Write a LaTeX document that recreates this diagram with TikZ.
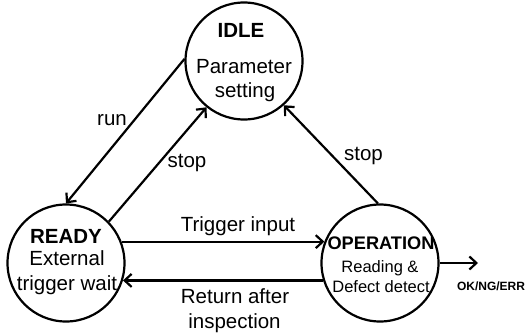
\documentclass[tikz,border=0pt]{standalone}
\usepackage{fontspec}
\setmainfont{Liberation Sans}
\usetikzlibrary{arrows.meta}
\begin{document}
\begin{tikzpicture}[x=1pt,y=-1pt,
  state/.style={draw, circle, line width=2.2pt, inner sep=0pt, minimum size=117pt},
  conn/.style={line width=2.2pt, -{Straight Barb[length=7pt,width=13pt]}},
  txt/.style={inner sep=0pt, anchor=base, font=\fontsize{20.5}{24}\selectfont},
  ttl/.style={inner sep=0pt, anchor=base, font=\fontsize{20.5}{24}\selectfont\bfseries},
  small/.style={inner sep=0pt, anchor=base, font=\fontsize{16.5}{20}\selectfont},
  tiny/.style={inner sep=0pt, anchor=base, font=\fontsize{12}{14}\selectfont\bfseries}
]
\useasboundingbox (0,0) rectangle (526,335);
% states
\node[state] (idle) at (244,61) {};
\node[state] (ready) at (66,263) {};
\node[state] (op) at (380,263) {};
% state texts
\node[ttl] (idleT) at (241,37) {IDLE};
\node[txt] (idleA) at (244,73) {Parameter};
\node[txt] (idleB) at (245,97) {setting};
\node[ttl] (readyT) at (66,243) {READY};
\node[txt] (readyA) at (67,265) {External};
\node[txt] (readyB) at (67,290) {trigger wait};
\node[ttl, font=\fontsize{18.2}{22}\selectfont\bfseries] (opT) at (381,249) {OPERATION};
\node[small] (opA) at (380,272) {Reading \&};
\node[small] (opB) at (381,292) {Defect detect};
% connectors
\coordinate (out) at (478,263);
\draw[conn] (idle.178) -- (ready.90);
\draw[conn] (ready.44) -- (idle.231);
\draw[conn] (op.92) -- (idle.312);
\draw[conn] (ready.21) -- (op.159);
\draw[conn] (op.197) -- (ready.-17);
\draw[conn] (op.0) -- (out);
% labels
\node[txt] (lrun) at (112,125) {run};
\node[txt] (lstop1) at (187,167) {stop};
\node[txt] (lstop2) at (363.5,160) {stop};
\node[txt] (ltrig) at (238,231) {Trigger input};
\node[txt] (lret1) at (235,303) {Return after};
\node[txt] (lret2) at (234.5,328) {inspection};
\node[tiny] (lout) at (491,290) {OK/NG/ERR};
\end{tikzpicture}
\end{document}
